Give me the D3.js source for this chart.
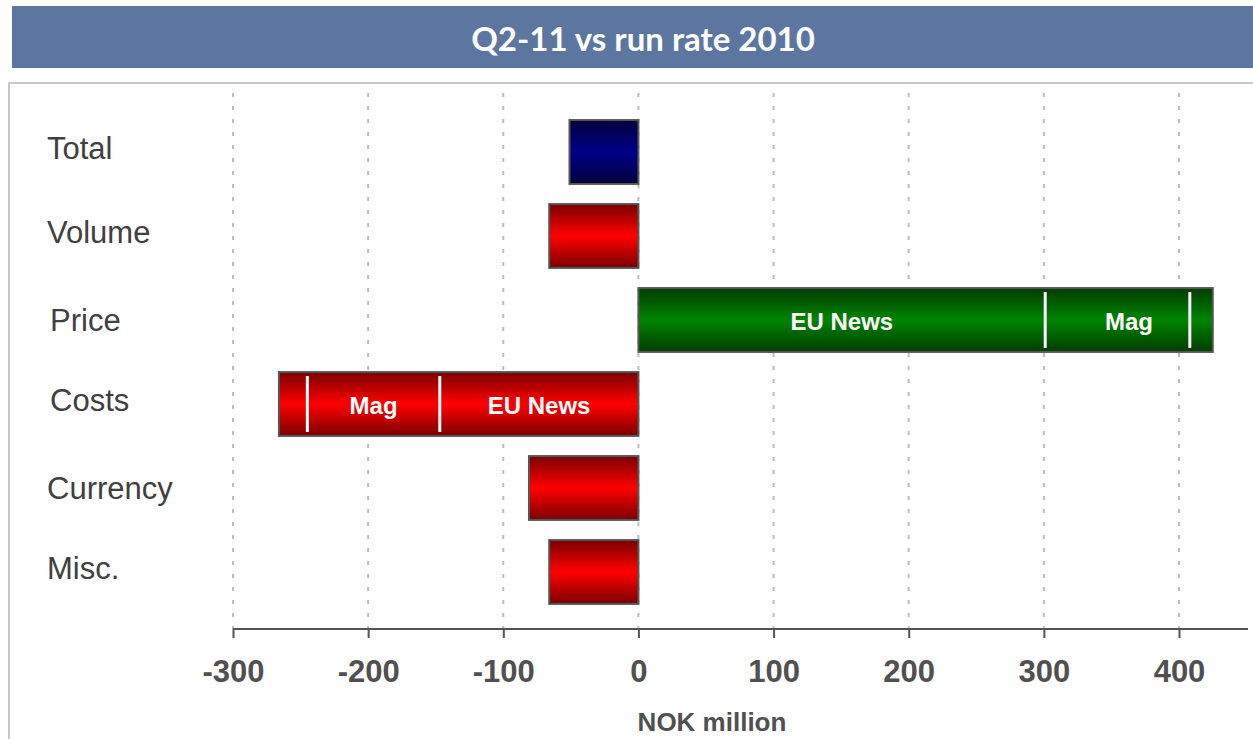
<!DOCTYPE html>
<html><head><meta charset="utf-8">
<script src="https://cdn.jsdelivr.net/npm/d3@7"></script>
<style>body{margin:0;background:#fff}svg{display:block}</style>
</head><body>
<script>
const categories = ["Total","Volume","Price","Costs","Currency","Misc."];
const values = [-51, -66, 425, -266, -81, -66];
const colorKeys = ["blue","red","green","red","red","red"];
const ticks = [-300,-200,-100,0,100,200,300,400];
// segment dividers and labels inside bars
const dividers = [
  {cat:"Price", at:301}, {cat:"Price", at:408},
  {cat:"Costs", at:-245}, {cat:"Costs", at:-147}
];
const segLabels = [
  {cat:"Price", from:0, to:301, text:"EU News"},
  {cat:"Price", from:301, to:425, text:"Mag"},
  {cat:"Costs", from:-245, to:-147, text:"Mag"},
  {cat:"Costs", from:-147, to:0, text:"EU News"}
];
const title = "Q2-11 vs run rate 2010";
const axisTitle = "NOK million";

const W=1253,H=739;
const FONT="'Liberation Sans', Arial, sans-serif";
const svg=d3.select("body").append("svg").attr("width",W).attr("height",H);
const defs=svg.append("defs");
const grads={blue:["#000038","#000088"],red:["#7a0000","#ff0000"],green:["#003c00","#008400"]};
Object.entries(grads).forEach(([k,[d,m]])=>{
  const g=defs.append("linearGradient").attr("id","g-"+k).attr("x1",0).attr("y1",0).attr("x2",0).attr("y2",1);
  g.append("stop").attr("offset","0%").attr("stop-color",d);
  g.append("stop").attr("offset","50%").attr("stop-color",m);
  g.append("stop").attr("offset","100%").attr("stop-color",d);
});

// title bar
svg.append("rect").attr("x",12).attr("y",6).attr("width",W-12).attr("height",62).attr("fill","#5d76a0");
svg.append("text").attr("x",643).attr("y",38).attr("text-anchor","middle").attr("dominant-baseline","central")
  .attr("fill","#fff").attr("font-family","Lato, 'Open Sans', sans-serif").attr("font-weight","bold").attr("font-size",33).text(title);

// frame
svg.append("path").attr("d",`M9,${H} V83 H${W}`).attr("fill","none").attr("stroke","#c8c8c8").attr("stroke-width",2);

const x=d3.scaleLinear().domain([-300,400]).range([233,1179]);
const y=d3.scaleBand().domain(categories).range([110,614]).paddingInner(0.24).paddingOuter(0.12);

// gridlines
svg.append("g").selectAll("line").data(ticks).join("line")
  .attr("x1",d=>x(d)).attr("x2",d=>x(d)).attr("y1",93).attr("y2",629)
  .attr("stroke","#bdbdbd").attr("stroke-width",2).attr("stroke-dasharray","4,9");

// bars
svg.append("g").selectAll("rect").data(categories).join("rect")
  .attr("x",(d,i)=>x(Math.min(0,values[i])))
  .attr("width",(d,i)=>Math.abs(x(values[i])-x(0)))
  .attr("y",d=>y(d)).attr("height",y.bandwidth())
  .attr("fill",(d,i)=>`url(#g-${colorKeys[i]})`)
  .attr("stroke","#555").attr("stroke-width",2);

// dividers
svg.append("g").selectAll("line").data(dividers).join("line")
  .attr("x1",d=>x(d.at)).attr("x2",d=>x(d.at))
  .attr("y1",d=>y(d.cat)+4).attr("y2",d=>y(d.cat)+y.bandwidth()-4)
  .attr("stroke","#fff").attr("stroke-width",3);

svg.append("g").selectAll("text").data(segLabels).join("text")
  .attr("x",d=>(x(d.from)+x(d.to))/2).attr("y",d=>y(d.cat)+y.bandwidth()/2+1)
  .attr("text-anchor","middle").attr("dominant-baseline","central")
  .attr("fill","#fff").attr("font-family",FONT).attr("font-weight","bold").attr("font-size",24)
  .text(d=>d.text);

// category labels
svg.append("g").selectAll("text").data(categories).join("text")
  .attr("x",(d,i)=>(i===2||i===3)?50:47).attr("y",(d,i)=>y(d)+y.bandwidth()/2-((i===2||i===4)?0:4))
  .attr("dominant-baseline","central")
  .attr("fill","#404040").attr("font-family",FONT).attr("font-size",31)
  .text(d=>d);

// axis
const ax=svg.append("g").attr("transform","translate(0,629)")
  .call(d3.axisBottom(x).tickValues(ticks).tickSize(9).tickSizeOuter(0).tickFormat(d3.format("d")));
ax.select(".domain").attr("d",`M233,0H1248`).attr("stroke","#555").attr("stroke-width",2);
ax.selectAll(".tick line").attr("stroke","#555").attr("stroke-width",2);
ax.selectAll(".tick text").attr("y",31).attr("dy","0.71em").attr("fill","#505050")
  .attr("font-family",FONT).attr("font-weight","bold").attr("font-size",31)
  .text(d=>d<0?"-"+Math.abs(d):d);

svg.append("text").attr("x",712).attr("y",722).attr("text-anchor","middle").attr("dominant-baseline","central")
  .attr("fill","#505050").attr("font-family",FONT).attr("font-weight","bold").attr("font-size",26)
  .text(axisTitle);
</script>
</body></html>
